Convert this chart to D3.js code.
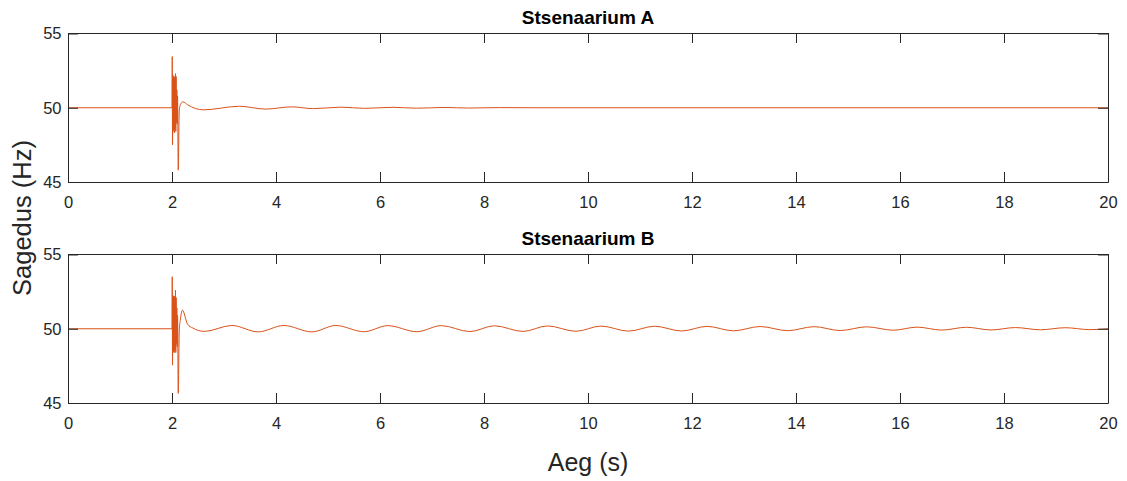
<!DOCTYPE html>
<html><head><meta charset="utf-8">
<script src="https://cdn.jsdelivr.net/npm/d3@7"></script>
<style>
body{margin:0;background:#fff}
text{font-family:"Liberation Sans",Arial,Helvetica,sans-serif}
</style>
</head><body>
<svg id="c" width="1127" height="481"></svg>
<script>
// ---------- data ----------
const titles = ["Stsenaarium A", "Stsenaarium B"];
const xTicks = [0, 2, 4, 6, 8, 10, 12, 14, 16, 18, 20];
const yTicks = [45, 50, 55];
const xLabel = "Aeg (s)";
const yLabel = "Sagedus (Hz)";

// Scenario A: time (s) and frequency (Hz)
const timeA = [0, 2.0, 2.005, 2.01, 2.015, 2.02, 2.027, 2.033, 2.04, 2.047, 2.053, 2.06, 2.067, 2.073, 2.08, 2.087, 2.093, 2.1, 2.107, 2.12, 2.14, 2.16, 2.21, 2.3, 2.45, 2.6, 3.3, 3.8, 4.3, 4.72, 5.25, 5.7, 6.25, 6.7, 7.25, 7.7, 8.3, 9.0, 20.0];
const freqA = [50, 50, 53.45, 47.5, 52.2, 48.4, 52.1, 48.5, 52.0, 48.3, 52.1, 48.6, 52.3, 48.4, 52.1, 49.0, 51.2, 48.9, 50.8, 45.8, 49.8, 50.2, 50.4, 50.2, 49.95, 49.86, 50.1, 49.91, 50.06, 49.94, 50.04, 49.96, 50.03, 49.97, 50.02, 49.98, 50.01, 50.0, 50.0];

// Scenario B: time (s) and frequency (Hz)
const timeB = [0, 2.0, 2.005, 2.01, 2.015, 2.02, 2.027, 2.033, 2.04, 2.047, 2.053, 2.06, 2.067, 2.073, 2.08, 2.087, 2.093, 2.1, 2.107, 2.12, 2.14, 2.16, 2.2, 2.3, 2.4, 2.62, 3.15, 3.66, 4.15, 4.69, 5.15, 5.69, 6.15, 6.71, 7.18, 7.73, 8.2, 8.75, 9.22, 9.77, 10.25, 10.78, 11.28, 11.8, 12.29, 12.8, 13.31, 13.84, 14.35, 14.85, 15.36, 15.87, 16.33, 16.8, 17.28, 17.75, 18.22, 18.7, 19.18, 19.65, 20.0];
const freqB = [50, 50, 53.5, 47.55, 52.25, 48.4, 52.2, 48.5, 52.1, 48.4, 52.2, 48.6, 52.6, 48.4, 52.1, 49.0, 51.4, 48.8, 50.9, 45.65, 49.9, 50.6, 51.25, 50.3, 50.05, 49.82, 50.22, 49.79, 50.22, 49.79, 50.22, 49.8, 50.21, 49.8, 50.21, 49.81, 50.2, 49.82, 50.19, 49.83, 50.18, 49.84, 50.17, 49.85, 50.16, 49.86, 50.15, 49.87, 50.14, 49.88, 50.13, 49.9, 50.11, 49.91, 50.1, 49.92, 50.08, 49.93, 50.07, 49.94, 50.0];

const series = [
  {title: titles[0], t: timeA, f: freqA, top: 33.5, bottom: 182},
  {title: titles[1], t: timeB, f: freqB, top: 254.5, bottom: 403}
];

// ---------- drawing ----------
const svg = d3.select("#c");
const left = 68, right = 1108;
const lineColor = "#D95319";
const axisColor = "#262626";

const x = d3.scaleLinear().domain([0, 20]).range([left, right]);

series.forEach(p => {
  const y = d3.scaleLinear().domain([45, 55]).range([p.bottom, p.top]);
  const g = svg.append("g");

  const data = p.t.map((t, i) => ({t, f: p.f[i]}));
  const line = d3.line().x(d => x(d.t)).y(d => y(d.f)).curve(d3.curveMonotoneX);
  g.append("path").datum(data)
    .attr("d", line)
    .attr("fill", "none")
    .attr("stroke", lineColor)
    .attr("stroke-width", 1);

  const fmt = d3.format("d");
  const styleAxis = sel => {
    sel.select(".domain").attr("stroke", axisColor);
    sel.selectAll(".tick line").attr("stroke", axisColor);
    sel.selectAll(".tick text").attr("fill", axisColor)
      .style("font-family", "'Liberation Sans', Arial, sans-serif")
      .style("font-size", "16.5px");
  };

  const yb = Math.round(p.bottom), yt = Math.round(p.top - 0.5);
  g.append("g").attr("transform", `translate(0,${yb})`)
    .call(d3.axisBottom(x).tickValues(xTicks).tickFormat(fmt).tickSizeInner(-10).tickSizeOuter(0).tickPadding(14.5))
    .call(styleAxis);
  g.append("g").attr("transform", `translate(0,${yt})`)
    .call(d3.axisTop(x).tickValues(xTicks).tickFormat("").tickSizeInner(-10).tickSizeOuter(0))
    .call(styleAxis);
  g.append("g").attr("transform", `translate(${left},0)`)
    .call(d3.axisLeft(y).tickValues(yTicks).tickFormat(fmt).tickSizeInner(-10).tickSizeOuter(0).tickPadding(6.5))
    .call(styleAxis);
  g.append("g").attr("transform", `translate(${right},0)`)
    .call(d3.axisRight(y).tickValues(yTicks).tickFormat("").tickSizeInner(-10).tickSizeOuter(0))
    .call(styleAxis);

  g.selectAll(".domain").attr("fill", "none");

  g.append("text")
    .attr("x", (left + right) / 2)
    .attr("y", p.top - 9.5)
    .attr("text-anchor", "middle")
    .attr("font-weight", "bold")
    .attr("font-size", "19px")
    .attr("fill", "#000")
    .text(p.title);
});

svg.append("text")
  .attr("x", (left + right) / 2)
  .attr("y", 471)
  .attr("text-anchor", "middle")
  .attr("font-size", "25px")
  .attr("fill", axisColor)
  .text(xLabel);

svg.append("text")
  .attr("transform", `translate(31,218) rotate(-90)`)
  .attr("text-anchor", "middle")
  .attr("font-size", "25.5px")
  .attr("fill", axisColor)
  .text(yLabel);
</script>
</body></html>
